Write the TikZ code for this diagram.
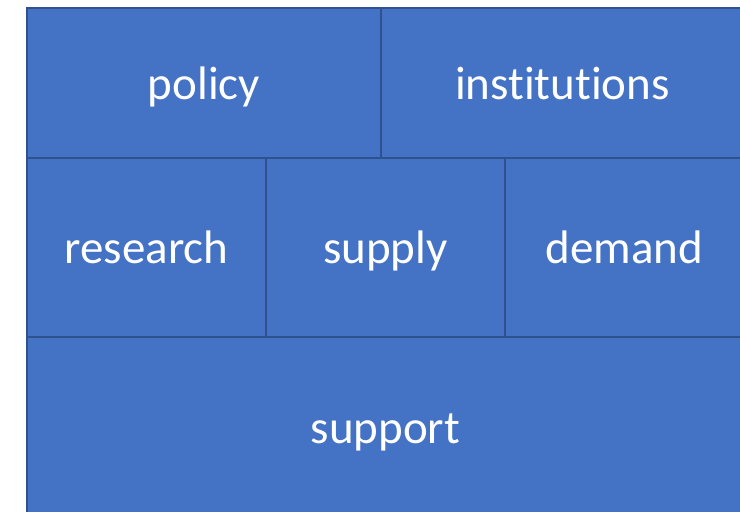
\documentclass[tikz,border=0pt]{standalone}
\usepackage{fontspec}
\setmainfont[Ligatures={NoCommon,NoRare,NoContextual}]{Carlito}
\definecolor{boxfill}{HTML}{4472C4}
\definecolor{boxline}{HTML}{2F528F}
\begin{document}
\begin{tikzpicture}[x=1bp,y=-1bp,
  cell/.style={draw=boxline,fill=boxfill,line width=1.6bp},
  lbl/.style={text=white,font=\fontsize{47bp}{50bp}\selectfont,inner sep=0pt,
    text height=0.5em,text depth=0pt,anchor=center}]
\useasboundingbox (0,0) rectangle (740,512);
\clip (0,0) rectangle (740,512);
\draw[cell] (27,8) rectangle (381,158);
\draw[cell] (381,8) rectangle (744,158);
\draw[cell] (27,158) rectangle (266,337);
\draw[cell] (266,158) rectangle (505,337);
\draw[cell] (505,158) rectangle (744,337);
\draw[cell] (27,337) rectangle (744,520);
\node[lbl] (policy) at (204,97) {policy};
\node[lbl] (inst) at (562.5,97) {institutions};
\node[lbl] (research) at (146.5,261) {research};
\node[lbl] (supply) at (385.5,261) {supply};
\node[lbl] (demand) at (624.5,261) {demand};
\node[lbl] (support) at (385.5,441) {support};
\end{tikzpicture}
\end{document}
